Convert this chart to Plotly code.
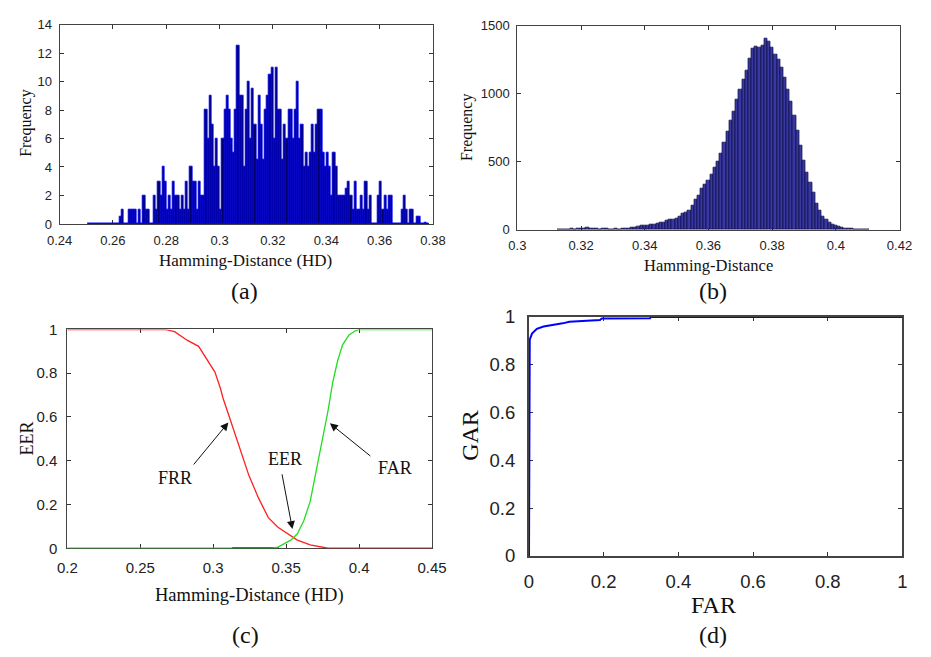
import numpy as np
import plotly.graph_objects as go

W, H = 931, 657

# ---------------- data ----------------
# (a) genuine HD histogram (bin start, bin width, frequencies)
a_bin_start = 0.2505
a_bin_width = 0.0008
a_freq = [0]*15 + [
    0.5, 1, 0, 0, 1, 1, 1, 1, 0, 1, 0, 2, 1, 1, 0, 0, 2, 1, 3, 2,
    4, 3, 1, 2, 1, 3, 2, 2, 1, 2, 1, 3, 1, 4, 3, 3, 1, 3, 2, 2,
    8, 6, 9, 7, 4, 6, 4, 1, 6, 8, 9, 8, 6, 5, 8, 12.5, 9, 9, 4, 8,
    10, 6, 9.5, 7, 4.5, 9, 7, 4.5, 8, 9, 10.5, 11, 6, 11, 8, 8, 4.5, 7, 6, 8,
    8, 6, 8, 10, 6, 7, 4, 5, 4, 5, 7, 5, 7, 8, 8, 5, 4, 5, 4, 2,
    5, 4, 2, 2, 2, 2, 2.5, 3, 2, 1, 3, 1, 1, 2, 1, 3, 1, 2, 0, 0,
    0, 2, 3, 1, 2, 1, 2, 2, 0, 0, 0, 0, 1, 2, 1, 0, 1, 1, 0, 0.5,
    0.5, 0, 0, 0.1, 0]

# (b) impostor HD histogram
b_bin_start = 0.3125
b_bin_width = 0.001
b_freq = [
    5, 4, 5, 4, 6, 5, 8, 10, 12, 20, 8, 6, 7, 5, 6, 6, 5, 5, 6, 5,
    6, 7, 10, 15, 20, 25, 28, 30, 30, 35, 40, 48, 55, 55, 68, 72, 73, 80, 100, 118,
    130, 145, 175, 220, 255, 300, 330, 365, 405, 455, 500, 560, 640, 720, 800, 870, 960, 1030, 1100, 1170,
    1260, 1330, 1345, 1340, 1355, 1405, 1385, 1335, 1290, 1250, 1190, 1120, 1030, 940, 840, 730, 620, 510, 420, 350,
    270, 190, 140, 100, 75, 55, 40, 30, 22, 15, 12, 8, 6, 5, 4, 3, 2, 2]

# (c) FRR / FAR curves
frr_hd = [0.2, 0.267, 0.2735, 0.2824, 0.29, 0.2957, 0.3012, 0.305, 0.3067, 0.3112, 0.3156, 0.32,
          0.3245, 0.3311, 0.3378, 0.3444, 0.351, 0.3577, 0.3665, 0.3787, 0.45]
frr_val = [1, 1, 0.99, 0.95, 0.923, 0.864, 0.805, 0.73, 0.687, 0.598, 0.51, 0.421,
           0.332, 0.229, 0.14, 0.096, 0.066, 0.037, 0.015, 0, 0]
far_hd = [0.2, 0.34, 0.3444, 0.3488, 0.3532, 0.3577, 0.3621, 0.3665, 0.371, 0.3754, 0.3787,
          0.382, 0.3853, 0.3887, 0.3931, 0.3975, 0.3997, 0.45]
far_val = [0, 0, 0.005, 0.02, 0.037, 0.066, 0.126, 0.214, 0.362, 0.51, 0.628,
           0.76, 0.857, 0.93, 0.975, 0.994, 1, 1]
dark_hd = [0.313, 0.345]
dark_val = [0, 0]

# (d) ROC curve
roc_far = [0, 0, 0.002, 0.008, 0.021, 0.039, 0.065, 0.09, 0.108, 0.16, 0.19, 0.195, 0.324, 0.326, 1]
roc_gar = [0, 0.9, 0.905, 0.93, 0.95, 0.96, 0.966, 0.973, 0.98, 0.986, 0.987, 0.993, 0.994, 1, 1]

# ticks
a_xt = [0.24, 0.26, 0.28, 0.30, 0.32, 0.34, 0.36, 0.38]
a_xl = ["0.24", "0.26", "0.28", "0.3", "0.32", "0.34", "0.36", "0.38"]
a_yt = [0, 2, 4, 6, 8, 10, 12, 14]
b_xt = [0.30, 0.32, 0.34, 0.36, 0.38, 0.40, 0.42]
b_xl = ["0.3", "0.32", "0.34", "0.36", "0.38", "0.4", "0.42"]
b_yt = [0, 500, 1000, 1500]
c_xt = [0.2, 0.25, 0.3, 0.35, 0.4, 0.45]
c_xl = ["0.2", "0.25", "0.3", "0.35", "0.4", "0.45"]
u_t = [0, 0.2, 0.4, 0.6, 0.8, 1.0]
u_l = ["0", "0.2", "0.4", "0.6", "0.8", "1"]

# ---------------- figure ----------------
def xdom(p0, p1):
    return [p0 / W, p1 / W]

def ydom(p0, p1):
    return [1 - p1 / H, 1 - p0 / H]

SANS = "Liberation Sans, Arial, sans-serif"
SERIF = "Liberation Serif, Times New Roman, serif"

def axis(domain, rng, tv, tt, fs, anchor, lw=1, standoff=None):
    d = dict(domain=domain, range=rng, tickmode="array", tickvals=tv, ticktext=tt,
             ticks="inside", ticklen=4, tickcolor="#333", tickwidth=1,
             showline=True, linecolor="#444", linewidth=lw, mirror="ticks",
             showgrid=False, zeroline=False, anchor=anchor, layer="below traces",
             tickfont=dict(family=SANS, size=fs, color="#222"))
    if standoff is not None:
        d["ticklabelstandoff"] = standoff
    return d

fig = go.Figure()

a_x = a_bin_start + a_bin_width * (np.arange(len(a_freq)) + 0.5)
fig.add_trace(go.Bar(x=a_x, y=a_freq, width=a_bin_width, xaxis="x", yaxis="y",
                     marker=dict(color="#00006a", line=dict(color="#0000ff", width=0.8))))
a_edges = [a_bin_start, a_bin_start + a_bin_width * len(a_freq)]
fig.add_trace(go.Scatter(x=a_edges, y=[0, 0], mode="lines", xaxis="x", yaxis="y",
                         line=dict(color="#0000ff", width=2)))

b_x = b_bin_start + b_bin_width * (np.arange(len(b_freq)) + 0.5)
fig.add_trace(go.Bar(x=b_x, y=b_freq, width=b_bin_width, xaxis="x2", yaxis="y2",
                     marker=dict(color="#3838a0", line=dict(color="#0c0c40", width=0.7))))

fig.add_trace(go.Scatter(x=dark_hd, y=dark_val, mode="lines", xaxis="x3", yaxis="y3",
                         line=dict(color="#224422", width=2.5)))
fig.add_trace(go.Scatter(x=frr_hd, y=frr_val, mode="lines", xaxis="x3", yaxis="y3",
                         line=dict(color="#ff2020", width=1.3)))
fig.add_trace(go.Scatter(x=far_hd, y=far_val, mode="lines", xaxis="x3", yaxis="y3",
                         line=dict(color="#22dd22", width=1.3)))

fig.add_trace(go.Scatter(x=roc_far, y=roc_gar, mode="lines", xaxis="x4", yaxis="y4",
                         line=dict(color="#0000ff", width=2)))

fig.update_layout(
    width=W, height=H, margin=dict(l=0, r=0, t=0, b=0), autosize=False,
    paper_bgcolor="white", plot_bgcolor="white", showlegend=False, bargap=0,
    xaxis=axis(xdom(48, 433), [0.24, 0.38], a_xt, a_xl, 13, "y", standoff=4),
    yaxis=axis(ydom(14, 220), [0, 14], a_yt, [str(v) for v in a_yt], 13, "x", standoff=4),
    xaxis2=axis(xdom(520, 914), [0.30, 0.42], b_xt, b_xl, 13, "y2", standoff=4),
    yaxis2=axis(ydom(15, 226), [0, 1500], b_yt, [str(v) for v in b_yt], 13, "x2", standoff=4),
    xaxis3=axis(xdom(56, 432), [0.2, 0.45], c_xt, c_xl, 15, "y3", standoff=6),
    yaxis3=axis(ydom(329, 555), [0, 1], u_t, u_l, 15, "x3", standoff=6),
    xaxis4=axis(xdom(532, 917), [0, 1], u_t, u_l, 18.5, "y4", lw=2, standoff=8),
    yaxis4=axis(ydom(316, 563), [0, 1], u_t, u_l, 18.5, "x4", lw=2, standoff=8),
)

def txt(s, x, y, size, angle=0, family=SERIF):
    fig.add_annotation(text=s, x=x / W, y=1 - y / H, xref="paper", yref="paper",
                       showarrow=False, textangle=angle, xanchor="center", yanchor="middle",
                       font=dict(family=family, size=size, color="#111"))

# axis titles and panel labels
txt("Frequency", 14, 116, 16, -90)
txt("Hamming-Distance (HD)", 240, 258, 17)
txt("(a)", 239, 289, 24)
txt("Frequency", 468, 120, 16, -90)
txt("Hamming-Distance", 717, 263, 16.5)
txt("(b)", 722, 289, 24)
txt("EER", 14, 442, 18, -90)
txt("Hamming-Distance (HD)", 244, 604, 18.5)
txt("(c)", 240, 645, 24)
txt("GAR", 471, 438, 24, -90)
txt("FAR", 722, 614, 24)
txt("(d)", 722, 645, 24)

# curve labels with arrows in (c)
for label, tx, ty in [("FRR", 0.2738, 0.323), ("EER", 0.349, 0.407), ("FAR", 0.4247, 0.367)]:
    fig.add_annotation(text=label, x=tx, y=ty, xref="x3", yref="y3", showarrow=False,
                       font=dict(family=SERIF, size=18, color="#111"))
for (x0, y0, x1, y1) in [(0.2858, 0.376, 0.3104, 0.575),
                         (0.347, 0.345, 0.3543, 0.088),
                         (0.4088, 0.416, 0.380, 0.571)]:
    fig.add_annotation(x=x1, y=y1, ax=x0, ay=y0, xref="x3", yref="y3", axref="x3", ayref="y3",
                       text="", showarrow=True, arrowhead=2, arrowsize=1.6, arrowwidth=1,
                       arrowcolor="#111")

fig.write_html("out.html", config={"displayModeBar": False},
               post_script="document.body.style.margin='0';document.body.style.overflow='hidden';")
